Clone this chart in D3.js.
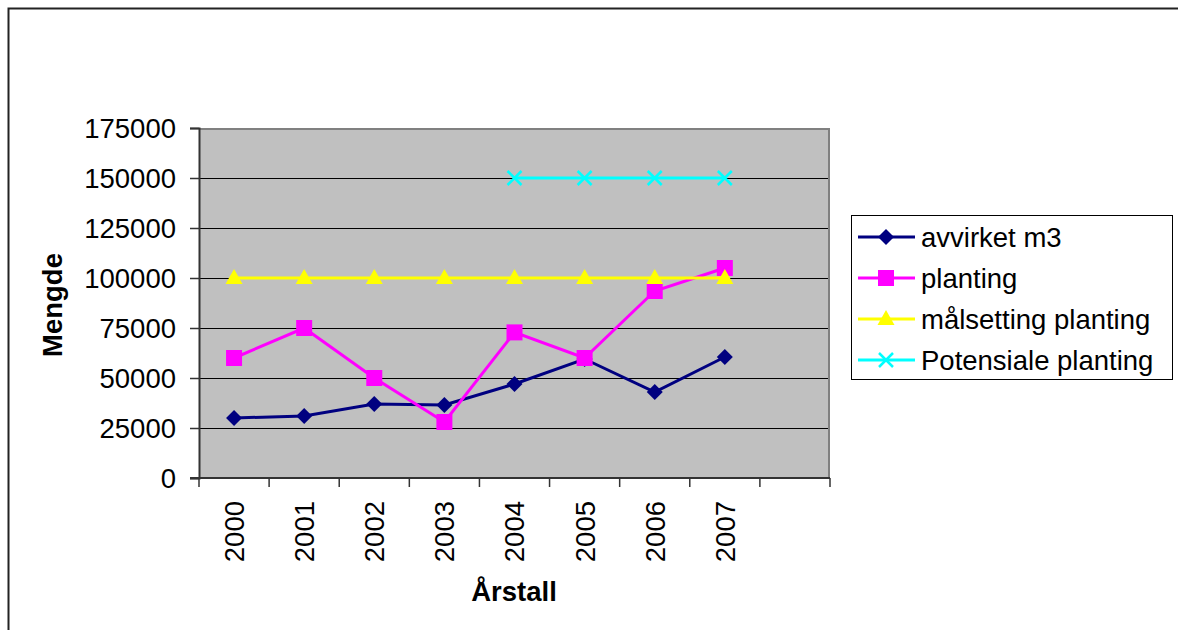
<!DOCTYPE html>
<html>
<head>
<meta charset="utf-8">
<script src="https://cdn.jsdelivr.net/npm/d3@7"></script>
<style>
  html, body { margin: 0; padding: 0; background: #fff; }
  svg { display: block; font-family: "Liberation Sans", Arial, sans-serif; }
</style>
</head>
<body>
<svg id="chart" width="1178" height="630"></svg>
<script>
const categories = ["2000", "2001", "2002", "2003", "2004", "2005", "2006", "2007", ""];
const yTicks = [0, 25000, 50000, 75000, 100000, 125000, 150000, 175000];

const avvirket = [30000, 31000, 37000, 36500, 47000, 59500, 43000, 60500];
const planting = [60000, 75000, 50000, 28000, 72800, 60000, 93500, 105000];
const malsetting = [100000, 100000, 100000, 100000, 100000, 100000, 100000, 100000];
const potensiale = [null, null, null, null, 150000, 150000, 150000, 150000];

const seriesNames = ["avvirket m3", "planting", "målsetting planting", "Potensiale planting"];
const seriesColors = ["#000080", "#FF00FF", "#FFFF00", "#00FFFF"];
const seriesMarkers = ["diamond", "square", "triangle", "cross"];
const seriesValues = [avvirket, planting, malsetting, potensiale];

const FS = 27.5;
const svg = d3.select("#chart");

// outer frame (top and left visible)
svg.append("path")
  .attr("d", "M8.5,630 L8.5,8.5 L1178,8.5")
  .attr("fill", "none").attr("stroke", "#222").attr("stroke-width", 2);

const plot = { left: 199, right: 830, top: 128, bottom: 478 };

const x = d3.scaleBand().domain(categories.map((c, i) => i)).range([plot.left, plot.right]);
const y = d3.scaleLinear().domain([0, 175000]).range([plot.bottom, plot.top]);

// plot background
svg.append("rect")
  .attr("x", plot.left).attr("y", plot.top)
  .attr("width", plot.right - plot.left).attr("height", plot.bottom - plot.top)
  .attr("fill", "#C0C0C0");

// gridlines
svg.append("g").selectAll("line").data(yTicks.filter(t => t > 0 && t < 175000)).join("line")
  .attr("x1", plot.left).attr("x2", plot.right)
  .attr("y1", d => Math.round(y(d)) + 0.5).attr("y2", d => Math.round(y(d)) + 0.5)
  .attr("stroke", "#000").attr("stroke-width", 1);

// plot border top/right gray
svg.append("path")
  .attr("d", `M${plot.left},${plot.top + 1} L${plot.right - 1},${plot.top + 1} L${plot.right - 1},${plot.bottom}`)
  .attr("fill", "none").attr("stroke", "#808080").attr("stroke-width", 2);

// Y axis
const yAxis = d3.axisLeft(y).tickValues(yTicks).tickSize(9).tickPadding(14).tickFormat(d3.format("d"));
const gy = svg.append("g").attr("transform", `translate(${plot.left},0)`).call(yAxis);
gy.select(".domain").attr("stroke", "#333").attr("stroke-width", 2);
gy.selectAll(".tick line").attr("stroke", "#333").attr("stroke-width", 1.5);
gy.selectAll(".tick text").attr("font-size", FS).attr("fill", "#000")
  .attr("font-family", "'Liberation Sans', Arial, sans-serif").attr("dy", "0.36em");

// X axis: ticks at band boundaries
const boundaries = d3.range(categories.length + 1).map(i => plot.left + i * x.bandwidth());
const gx = svg.append("g");
gx.append("line").attr("x1", plot.left - 9).attr("x2", plot.right)
  .attr("y1", plot.bottom).attr("y2", plot.bottom)
  .attr("stroke", "#333").attr("stroke-width", 2);
gx.selectAll("line.tk").data(boundaries).join("line").attr("class", "tk")
  .attr("x1", d => d).attr("x2", d => d)
  .attr("y1", plot.bottom).attr("y2", plot.bottom + 9)
  .attr("stroke", "#333").attr("stroke-width", 1.5);
gx.selectAll("text").data(categories.filter(c => c !== "")).join("text")
  .attr("transform", (d, i) => `translate(${x(i) + x.bandwidth() / 2},${plot.bottom + 23}) rotate(-90)`)
  .attr("text-anchor", "end").attr("dy", "0.36em")
  .attr("font-size", FS).attr("fill", "#000")
  .text(d => d);

// axis titles
svg.append("text")
  .attr("transform", `translate(52,305) rotate(-90)`)
  .attr("text-anchor", "middle").attr("dy", "0.36em")
  .attr("font-size", FS).attr("font-weight", "bold").text("Mengde");
svg.append("text")
  .attr("x", 514).attr("y", 601)
  .attr("text-anchor", "middle")
  .attr("font-size", FS).attr("font-weight", "bold").text("Årstall");

// markers
function drawMarker(g, type, cx, cy, color) {
  if (type === "diamond") {
    g.append("path").attr("d", `M${cx},${cy - 8} L${cx + 8},${cy} L${cx},${cy + 8} L${cx - 8},${cy} Z`).attr("fill", color);
  } else if (type === "square") {
    g.append("rect").attr("x", cx - 8).attr("y", cy - 8).attr("width", 16).attr("height", 16).attr("fill", color);
  } else if (type === "triangle") {
    g.append("path").attr("d", `M${cx},${cy - 9} L${cx + 8.5},${cy + 6} L${cx - 8.5},${cy + 6} Z`).attr("fill", color);
  } else if (type === "cross") {
    g.append("path").attr("d", `M${cx - 7},${cy - 7} L${cx + 7},${cy + 7} M${cx - 7},${cy + 7} L${cx + 7},${cy - 7}`)
      .attr("stroke", color).attr("stroke-width", 2.5).attr("fill", "none");
  }
}

const line = d3.line()
  .defined(d => d.v !== null)
  .x(d => x(d.i) + x.bandwidth() / 2)
  .y(d => y(d.v));

seriesValues.forEach((vals, s) => {
  const pts = vals.map((v, i) => ({ i, v }));
  const g = svg.append("g");
  g.append("path").datum(pts).attr("d", line)
    .attr("fill", "none").attr("stroke", seriesColors[s]).attr("stroke-width", 3);
  pts.filter(p => p.v !== null).forEach(p => {
    drawMarker(g, seriesMarkers[s], x(p.i) + x.bandwidth() / 2, y(p.v), seriesColors[s]);
  });
});

// legend
const lg = svg.append("g");
lg.append("rect").attr("x", 851.5).attr("y", 215.5).attr("width", 321).attr("height", 164)
  .attr("fill", "#fff").attr("stroke", "#000").attr("stroke-width", 1);
seriesNames.forEach((name, s) => {
  const cy = 237 + s * 41;
  lg.append("line").attr("x1", 858).attr("x2", 915).attr("y1", cy).attr("y2", cy)
    .attr("stroke", seriesColors[s]).attr("stroke-width", 3);
  drawMarker(lg, seriesMarkers[s], 886, cy, seriesColors[s]);
  lg.append("text").attr("x", 921).attr("y", cy).attr("dy", "0.36em")
    .attr("font-size", FS).attr("fill", "#000").text(name);
});
</script>
</body>
</html>
